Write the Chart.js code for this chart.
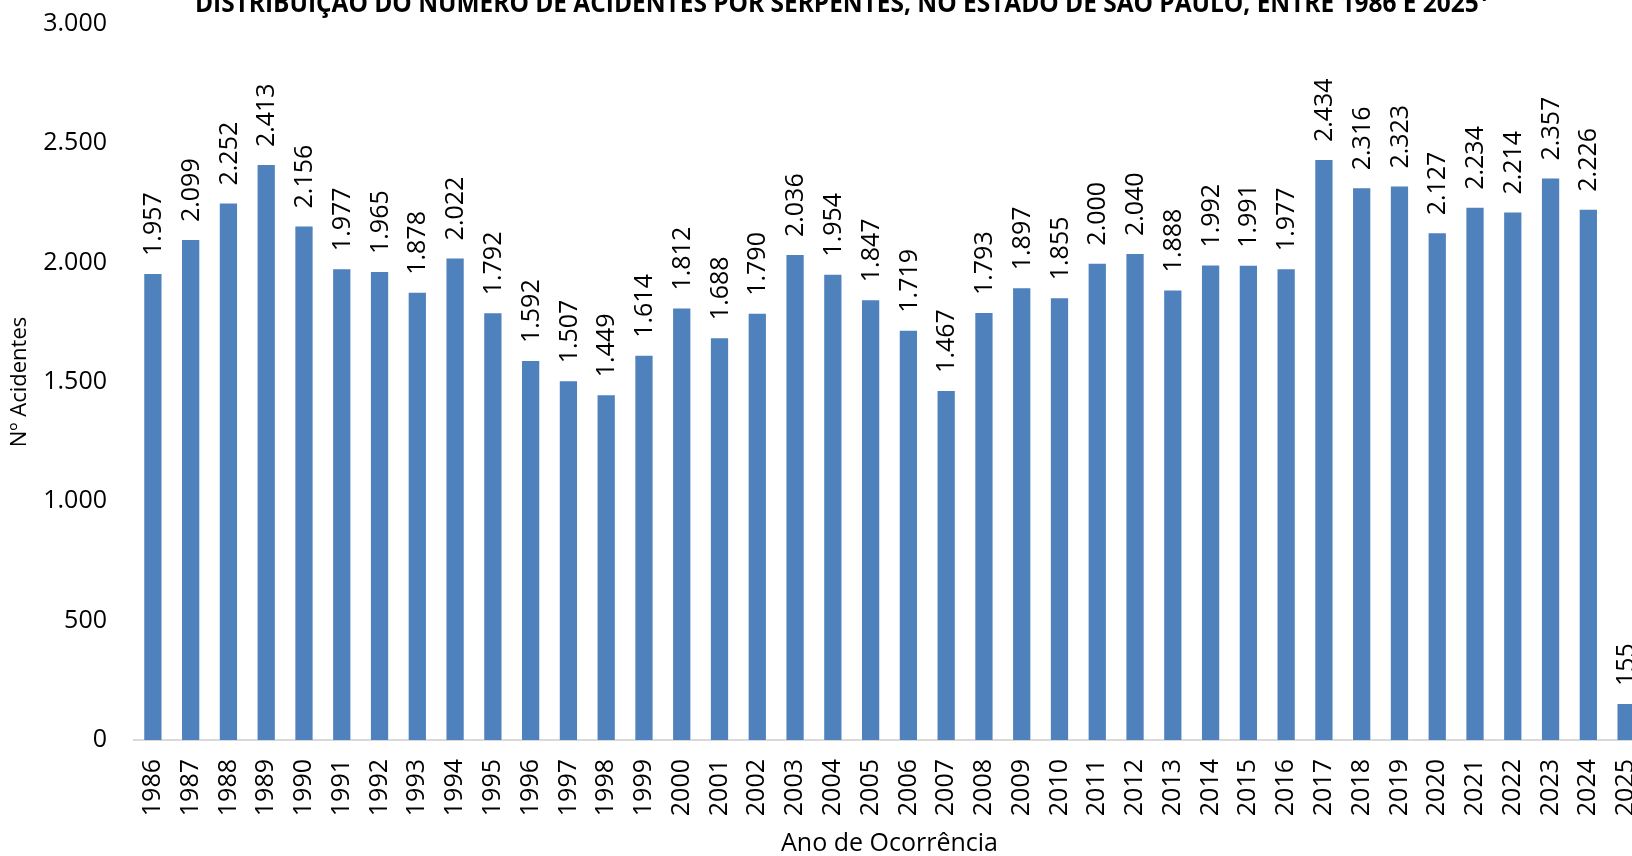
<!DOCTYPE html>
<html>
<head>
<meta charset="utf-8">
<script src="https://cdn.jsdelivr.net/npm/chart.js@4.4.1/dist/chart.umd.min.js"></script>
<style>
    html, body { margin: 0; padding: 0; background: #fff; overflow: hidden; }
    body { width: 1632px; height: 856px; position: relative; }
    #wrap { position: absolute; left: 0; top: -30px; width: 1660px; height: 889px; }
</style>
</head>
<body>
<div id="wrap"><canvas id="chart"></canvas></div>
<script>
// Número de acidentes por serpentes, SP, 1986-2025
const years = [
    '1986', '1987', '1988', '1989', '1990', '1991', '1992', '1993', '1994', '1995',
    '1996', '1997', '1998', '1999', '2000', '2001', '2002', '2003', '2004', '2005',
    '2006', '2007', '2008', '2009', '2010', '2011', '2012', '2013', '2014', '2015',
    '2016', '2017', '2018', '2019', '2020', '2021', '2022', '2023', '2024', '2025',
];
const accidents = [
    1957, 2099, 2252, 2413, 2156, 1977, 1965, 1878, 2022, 1792,
    1592, 1507, 1449, 1614, 1812, 1688, 1790, 2036, 1954, 1847,
    1719, 1467, 1793, 1897, 1855, 2000, 2040, 1888, 1992, 1991,
    1977, 2434, 2316, 2323, 2127, 2234, 2214, 2357, 2226, 155,
];
const yTicks = [0, 500, 1000, 1500, 2000, 2500, 3000];

const TITLE = 'DISTRIBUIÇÃO DO NÚMERO DE ACIDENTES POR SERPENTES, NO ESTADO DE SÃO PAULO, ENTRE 1986 E 2025¹';
const BAR = '#4f81bd';
const FONT = 'Open Sans';

const fmt = (n) => String(n).replace(/\B(?=(\d{3})+(?!\d))/g, '.');

// value labels, rotated, above each bar
const barLabels = {
    id: 'barLabels',
    afterDatasetsDraw(chart) {
        const ctx = chart.ctx;
        const meta = chart.getDatasetMeta(0);
        ctx.save();
        ctx.font = `25px "${FONT}"`;
        ctx.fillStyle = '#000';
        ctx.textAlign = 'left';
        ctx.textBaseline = 'middle';
        meta.data.forEach((bar, i) => {
            ctx.save();
            ctx.translate(bar.x, bar.y - 17);
            ctx.rotate(-Math.PI / 2);
            ctx.fillText(fmt(accidents[i]), 0, 1);
            ctx.restore();
        });
        ctx.restore();
    },
};

// chart title (cut by the top edge in the reference)
const topTitle = {
    id: 'topTitle',
    afterDraw(chart) {
        const ctx = chart.ctx;
        ctx.save();
        ctx.font = `bold 26px "${FONT}"`;
        ctx.fillStyle = '#000';
        ctx.textBaseline = 'alphabetic';
        ctx.textAlign = 'left';
        const w = ctx.measureText(TITLE).width;
        const sx = 1293 / w;
        ctx.translate(195, 42);
        ctx.scale(sx, 1);
        ctx.fillText(TITLE, 0, 0);
        ctx.restore();
    },
};

new Chart(document.getElementById('chart'), {
    type: 'bar',
    data: {
        labels: years,
        datasets: [{
            label: 'Nº Acidentes',
            data: accidents,
            backgroundColor: BAR,
            borderColor: 'rgba(255,255,255,0.35)',
            borderWidth: 1,
            barPercentage: 0.51,
            categoryPercentage: 1,
        }],
    },
    options: {
        responsive: true,
        maintainAspectRatio: false,
        animation: false,
        layout: { padding: { top: 54, right: 15, left: 0, bottom: 0 } },
        plugins: {
            legend: { display: false },
            title: { display: false },
            tooltip: { enabled: false },
        },
        scales: {
            x: {
                grid: { display: false, drawTicks: false },
                border: { display: true, color: '#d9d9d9', width: 2 },
                ticks: {
                    color: '#000',
                    font: { family: FONT, size: 25 },
                    minRotation: 90,
                    maxRotation: 90,
                    padding: 19,
                    autoSkip: false,
                },
                title: {
                    display: true,
                    text: 'Ano de Ocorrência',
                    color: '#000',
                    font: { family: FONT, size: 25 },
                    padding: { top: 0, bottom: 0 },
                },
                afterFit(scale) {
                    scale.height = 119;
                    scale.paddingLeft = 0;
                    scale.paddingRight = 0;
                },
            },
            y: {
                min: 0,
                max: 3000,
                grid: { display: false, drawTicks: false },
                border: { display: false },
                afterBuildTicks(scale) { scale.ticks = yTicks.map((v) => ({ value: v })); },
                ticks: {
                    color: '#000',
                    font: { family: FONT, size: 25 },
                    padding: 27,
                    callback: (v) => fmt(v),
                },
                title: {
                    display: true,
                    text: 'Nº Acidentes',
                    color: '#000',
                    font: { family: FONT, size: 22 },
                    padding: { top: 7, bottom: 0 },
                },
                afterFit(scale) { scale.width = 134; },
            },
        },
    },
    plugins: [barLabels, topTitle],
});
</script>
</body>
</html>
